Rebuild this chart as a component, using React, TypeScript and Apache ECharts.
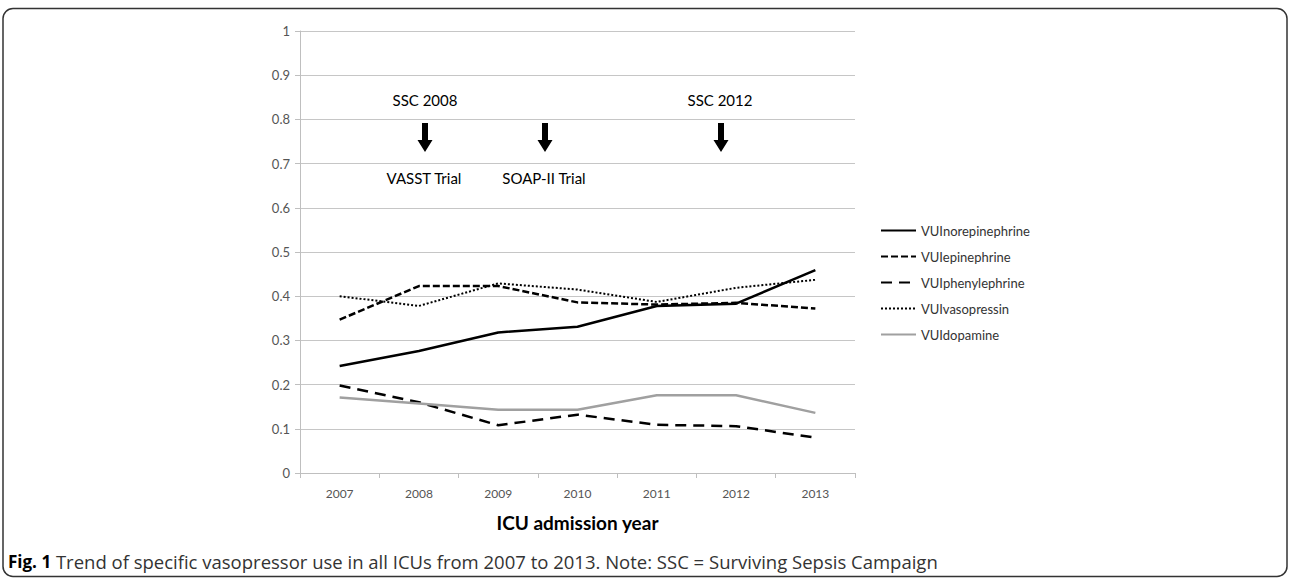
import React, { useEffect, useRef } from "react";
import * as echarts from "echarts";

const years = ["2007", "2008", "2009", "2010", "2011", "2012", "2013"];
const seriesNames = ["VUInorepinephrine", "VUIepinephrine", "VUIphenylephrine", "VUIvasopressin", "VUIdopamine"];
const norepinephrine = [0.242, 0.276, 0.318, 0.331, 0.378, 0.383, 0.459];
const epinephrine = [0.347, 0.423, 0.423, 0.386, 0.381, 0.385, 0.372];
const phenylephrine = [0.198, 0.160, 0.108, 0.132, 0.109, 0.106, 0.080];
const vasopressin = [0.400, 0.378, 0.429, 0.415, 0.387, 0.419, 0.437];
const dopamine = [0.171, 0.157, 0.143, 0.143, 0.176, 0.176, 0.136];

const xAxisTitle = "ICU admission year";
const captionBold = "Fig. 1";
const captionText = " Trend of specific vasopressor use in all ICUs from 2007 to 2013. Note: SSC = Surviving Sepsis Campaign";
const topNotes = [
  { text: "SSC 2008", x: 425 },
  { text: "SSC 2012", x: 720 },
];
const bottomNotes = [
  { text: "VASST Trial", x: 424 },
  { text: "SOAP-II Trial", x: 544 },
];
const arrowXs = [425, 545, 721];

const FONT = "Lato, 'Open Sans', sans-serif";
const CAP_FONT = "'Open Sans', Lato, sans-serif";

function arrow(cx: number) {
  return {
    type: "polygon",
    shape: {
      points: [
        [cx - 3, 123],
        [cx + 3, 123],
        [cx + 3, 140],
        [cx + 7.5, 140],
        [cx, 152],
        [cx - 7.5, 140],
        [cx - 3, 140],
      ],
    },
    style: { fill: "#000" },
    z: 10,
  };
}

export default function App() {
  const ref = useRef<HTMLDivElement>(null);
  useEffect(() => {
    if (!ref.current) return;
    const chart = echarts.init(ref.current, undefined, { renderer: "svg" });
    const mk = (name: string, data: number[], color: string, type: any, width: number) => ({
      name,
      type: "line",
      data,
      symbol: "none",
      showSymbol: false,
      lineStyle: { color, width, type },
      itemStyle: { color },
      z: 3,
    });
    chart.setOption({
      animation: false,
      backgroundColor: "#fff",
      grid: { left: 300, right: 435, top: 31, bottom: 105 },
      legend: {
        orient: "vertical",
        left: 880,
        top: 224,
        padding: 0,
        itemWidth: 35,
        itemHeight: 14,
        itemGap: 13,
        itemStyle: { opacity: 0 },
        textStyle: { fontFamily: FONT, fontSize: 13, color: "#333" },
        data: seriesNames,
      },
      xAxis: {
        type: "category",
        data: years,
        boundaryGap: true,
        axisLine: { lineStyle: { color: "#bfbfbf", width: 1 } },
        axisTick: { show: true, length: 5, lineStyle: { color: "#bfbfbf" } },
        axisLabel: { fontFamily: FONT, fontSize: 12, color: "#555", margin: 14 },
        name: xAxisTitle,
        nameLocation: "middle",
        nameGap: 40,
        nameTextStyle: { fontFamily: FONT, fontSize: 19, fontWeight: "bold", color: "#000" },
      },
      yAxis: {
        type: "value",
        min: 0,
        max: 1,
        interval: 0.1,
        axisLine: { show: true, lineStyle: { color: "#bfbfbf", width: 1 } },
        axisTick: { show: true, length: 5, lineStyle: { color: "#bfbfbf" } },
        splitLine: { lineStyle: { color: "#c6c6c6", width: 1 } },
        axisLabel: { fontFamily: FONT, fontSize: 13, color: "#555", margin: 10 },
      },
      series: [
        mk(seriesNames[0], norepinephrine, "#000", "solid", 2.5),
        mk(seriesNames[1], epinephrine, "#000", [7, 3], 2.5),
        mk(seriesNames[2], phenylephrine, "#000", [11, 7], 2.5),
        mk(seriesNames[3], vasopressin, "#000", [2, 2], 2),
        mk(seriesNames[4], dopamine, "#a0a0a0", "solid", 2.5),
      ],
      graphic: [
        {
          type: "rect",
          shape: { x: 3, y: 8.5, width: 1284, height: 568, r: 10 },
          style: { fill: "none", stroke: "#333", lineWidth: 1.5 },
          silent: true,
        },
        ...topNotes.map((n) => ({
          type: "text",
          x: n.x,
          y: 100,
          style: { text: n.text, fontFamily: FONT, fontSize: 15, fill: "#000", align: "center", verticalAlign: "middle" },
        })),
        ...bottomNotes.map((n) => ({
          type: "text",
          x: n.x,
          y: 178,
          style: { text: n.text, fontFamily: FONT, fontSize: 15, fill: "#000", align: "center", verticalAlign: "middle" },
        })),
        ...arrowXs.map((x) => arrow(x)),
        {
          type: "text",
          x: 8,
          y: 561,
          style: {
            text: "{b|" + captionBold + "}" + captionText,
            fontFamily: CAP_FONT,
            fontSize: 18.5,
            fill: "#333",
            verticalAlign: "middle",
            rich: {
              b: { fontFamily: CAP_FONT, fontSize: 17, fontWeight: "bold", fill: "#000" },
            },
          },
        },
      ],
    });
    return () => chart.dispose();
  }, []);
  return (
    <div
      ref={ref}
      style={{ position: "fixed", left: 0, top: 0, width: 1290, height: 578, background: "#fff" }}
    />
  );
}
